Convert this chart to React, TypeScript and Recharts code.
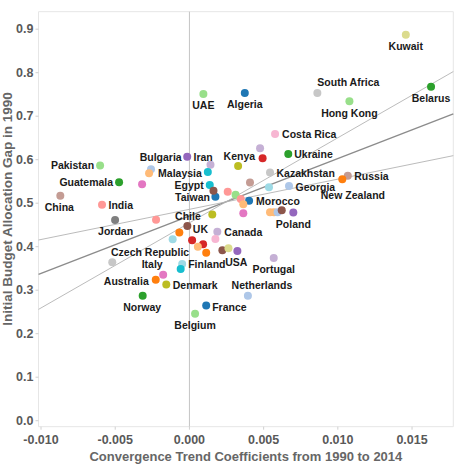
import { ScatterChart, Scatter, XAxis, YAxis, ReferenceLine, ReferenceArea } from 'recharts';

// Convergence trend coefficient (x) vs. initial budget allocation gap (y), one entry per country
const countryNames = [
    'Kuwait', 'South Africa', 'Hong Kong', 'Belarus', 'UAE', 'Algeria', 'Costa Rica', 'Ukraine',
    'Kenya', 'Bulgaria', 'Iran', 'Pakistan', 'Malaysia', 'Egypt', 'Taiwan', 'Guatemala',
    'China', 'India', 'Jordan', 'Chile', 'UK', 'Canada', 'Czech Republic', 'Italy',
    'Finland', 'USA', 'Portugal', 'Netherlands', 'Australia', 'Denmark', 'Norway', 'France',
    'Belgium', 'Kazakhstan', 'Georgia', 'Russia', 'New Zealand', 'Morocco', 'Poland',
    // countries drawn without a label
    '', '', '', '', '', '', '', '', '', '', '', '', '', '', '',
    '', '', '', '', '', '', '', '', '', '', '', '', '',
];

const trendCoef = [
    0.01458, 0.00862, 0.01078, 0.01628, 0.00094, 0.00373, 0.00577, 0.00666,
    0.00493, -0.00015, 0.00142, -0.00602, 0.00124, 0.00137, 0.00175, -0.00474,
    -0.00870, -0.00589, -0.00501, 0.00154, -0.00014, 0.00188, 0.00113, -0.00177,
    -0.00049, 0.00323, 0.00568, 0.00394, -0.00227, -0.00156, -0.00315, 0.00113,
    0.00038, 0.00543, 0.00671, 0.01067, 0.01030, 0.00402, 0.00700,
    0.00476, 0.00328, -0.00259, -0.00272, -0.00319, 0.00162, 0.00258, 0.00408,
    0.00536, 0.00311, 0.00346, 0.00363, 0.00363, -0.00225, -0.00068,
    -0.00113, 0.00018, 0.00175, 0.00092, 0.00057, 0.00222, 0.00263, -0.00520,
    -0.00059, 0.00543, 0.00570, 0.00594, 0.00622,
];

const budgetGap = [
    0.8874, 0.7533, 0.7345, 0.7678, 0.7510, 0.7533, 0.6591, 0.6131,
    0.6034, 0.6067, 0.5885, 0.5867, 0.5717, 0.5418, 0.5149, 0.5480,
    0.5172, 0.4966, 0.4614, 0.4740, 0.4476, 0.4343, 0.3862, 0.3356,
    0.3602, 0.3901, 0.3740, 0.2874, 0.3241, 0.3131, 0.2874, 0.2648,
    0.2460, 0.5706, 0.5395, 0.5632, 0.5549, 0.5057, 0.4786,
    0.6264, 0.5855, 0.5779, 0.5687, 0.5434, 0.5285, 0.5264, 0.5476,
    0.5368, 0.5193, 0.5097, 0.4977, 0.4768, 0.4621, 0.4326,
    0.4170, 0.4149, 0.4175, 0.4055, 0.4000, 0.3920, 0.3966, 0.3644,
    0.3485, 0.4791, 0.4791, 0.4791, 0.4837,
];

const xTicks = [-0.01, -0.005, 0, 0.005, 0.01, 0.015];
const yTicks = [0, 0.1, 0.2, 0.3, 0.4, 0.5, 0.6, 0.7, 0.8, 0.9];

// Trend line and its two bounding fits: intercept at x = 0 and slope
const trendIntercepts = [0.4706, 0.4548, 0.4859];
const trendSlopes = [13.19, 19.56, 6.94];

const X_MIN = -0.01017;
const X_MAX = 0.01778;
const Y_MIN = -0.0138;
const Y_MAX = 0.9402;

const T20 = {
    blue: '#1f77b4', ltBlue: '#aec7e8', orange: '#ff7f0e', ltOrange: '#ffbb78',
    green: '#2ca02c', ltGreen: '#98df8a', red: '#d62728', ltRed: '#ff9896',
    purple: '#9467bd', ltPurple: '#c5b0d5', brown: '#8c564b', ltBrown: '#c49c94',
    pink: '#e377c2', ltPink: '#f7b6d2', gray: '#7f7f7f', ltGray: '#c7c7c7',
    olive: '#bcbd22', ltOlive: '#dbdb8d', cyan: '#17becf', ltCyan: '#9edae5',
};

// dot colour per entry, same order as countryNames
const dotColors = [
    T20.ltOlive, T20.ltGray, T20.ltGreen, T20.green, T20.ltGreen, T20.blue, T20.ltPink, T20.green,
    T20.red, T20.purple, T20.ltPurple, T20.ltGreen, T20.cyan, T20.cyan, T20.blue, T20.green,
    T20.ltBrown, T20.ltRed, T20.gray, T20.olive, T20.brown, T20.ltPurple, T20.orange, T20.pink,
    T20.ltCyan, T20.purple, T20.ltPurple, T20.ltBlue, T20.orange, T20.olive, T20.green, T20.blue,
    T20.ltGreen, T20.ltGray, T20.ltBlue, T20.ltBrown, T20.orange, T20.blue, T20.purple,
    T20.ltPurple, T20.olive, T20.ltBlue, T20.ltOrange, T20.pink, T20.brown, T20.ltRed, T20.ltBrown,
    T20.ltCyan, T20.ltGreen, T20.ltRed, T20.ltOrange, T20.pink, T20.ltRed, T20.orange,
    T20.ltCyan, T20.red, T20.ltPink, T20.red, T20.ltOrange, T20.brown, T20.ltOlive, T20.ltGray,
    T20.cyan, T20.ltOrange, T20.ltOrange, T20.ltBlue, T20.brown,
];

// label placement: [anchor, dx, dy] relative to the dot
type Spot = ['start' | 'middle' | 'end', number, number];
const labelSpots: Record<string, Spot> = {
    'Kuwait': ['middle', 0, 11.5],
    'South Africa': ['start', 0, -11],
    'Hong Kong': ['middle', 0, 11.5],
    'Belarus': ['middle', 0, 11],
    'UAE': ['middle', 0, 11],
    'Algeria': ['middle', 0, 11],
    'Costa Rica': ['start', 7, 0.5],
    'Ukraine': ['start', 6, 0],
    'Kenya': ['end', -7.5, -2],
    'Bulgaria': ['end', -5.5, 0.5],
    'Iran': ['start', -17, -7.5],
    'Pakistan': ['end', -6, 0],
    'Malaysia': ['end', -6, 0.5],
    'Egypt': ['end', -6, 0],
    'Taiwan': ['end', -5.5, 0],
    'Guatemala': ['end', -6, 0],
    'China': ['middle', -1, 11.5],
    'India': ['start', 6.5, 0.5],
    'Jordan': ['middle', 0.5, 11],
    'Chile': ['end', -11.5, 1],
    'UK': ['start', 5.5, 3],
    'Canada': ['start', 7, 0],
    'Czech Republic': ['end', -17, -1],
    'Italy': ['middle', -11, -10.5],
    'Finland': ['start', 6, 0],
    'USA': ['middle', -1, 11.5],
    'Portugal': ['middle', 0, 11],
    'Netherlands': ['middle', 14, -11],
    'Australia': ['end', -7, 1],
    'Denmark': ['start', 6.5, 1],
    'Norway': ['middle', -0.5, 11.5],
    'France': ['start', 6, 1],
    'Belgium': ['middle', 0, 11.5],
    'Kazakhstan': ['start', 6.5, 1],
    'Georgia': ['start', 6.5, 0.5],
    'Russia': ['start', 6.5, 0],
    'New Zealand': ['start', -21.5, 16],
    'Morocco': ['start', 7, 0.5],
    'Poland': ['middle', 0, 11.5],
};

const points = countryNames.map((name, i) => ({
    name,
    x: trendCoef[i],
    y: budgetGap[i],
    idx: i,
}));

const trendSegments = trendIntercepts.map((a, i) => [
    { x: X_MIN, y: a + trendSlopes[i] * X_MIN },
    { x: X_MAX, y: a + trendSlopes[i] * X_MAX },
]);

const FONT = '"Liberation Sans", Arial, sans-serif';

const Dot = (props: any) => {
    const { cx, cy, payload } = props;
    if (cx == null || cy == null) return <g />;
    return <circle cx={cx} cy={cy} r={4} fill={dotColors[payload.idx]} />;
};

const DotLabel = (props: any) => {
    const { cx, cy, payload } = props;
    const spot = labelSpots[payload.name];
    if (!spot || cx == null) return <g />;
    const [anchor, dx, dy] = spot;
    return (
        <text
            x={cx + dx}
            y={cy + dy}
            textAnchor={anchor}
            dominantBaseline="central"
            fontFamily={FONT}
            fontWeight="bold"
            fontSize={10.5}
            fill="#1a1a1a"
        >
            {payload.name}
        </text>
    );
};

const XTick = (props: any) => {
    const { x, y, payload } = props;
    return (
        <text x={x} y={y + 8.5} textAnchor="middle" dominantBaseline="central"
            fontFamily={FONT} fontWeight="bold" fontSize={12.5} fill="#595959">
            {payload.value.toFixed(3)}
        </text>
    );
};

const YTick = (props: any) => {
    const { x, y, payload } = props;
    return (
        <text x={x} y={y} textAnchor="end" dominantBaseline="central"
            fontFamily={FONT} fontWeight="bold" fontSize={12.5} fill="#595959">
            {payload.value.toFixed(1)}
        </text>
    );
};

export default function App() {
    return (
        <div style={{ position: 'absolute', left: 0, top: 0, width: 456, height: 471, background: '#fff' }}>
            <ScatterChart
                width={456}
                height={471}
                margin={{ top: 11.7, right: 2.7, bottom: 0, left: 0 }}
            >
                <XAxis
                    type="number"
                    dataKey="x"
                    domain={[X_MIN, X_MAX]}
                    allowDataOverflow
                    ticks={xTicks}
                    height={44.3}
                    axisLine={false}
                    tickLine={{ stroke: '#d0d0d0' }}
                    tickSize={3}
                    tickMargin={2}
                    tick={<XTick />}
                    interval={0}
                />
                <YAxis
                    type="number"
                    dataKey="y"
                    domain={[Y_MIN, Y_MAX]}
                    allowDataOverflow
                    ticks={yTicks}
                    width={38.5}
                    axisLine={false}
                    tickLine={{ stroke: '#d0d0d0' }}
                    tickSize={3}
                    tickMargin={2}
                    tick={<YTick />}
                    interval={0}
                />
                <ReferenceArea x1={X_MIN} x2={X_MAX} y1={Y_MIN} y2={Y_MAX}
                    fill="none" stroke="#e6e6e6" strokeWidth={1} />
                <ReferenceLine x={0} stroke="#c4c4c4" strokeWidth={1} />
                {trendSegments.map((seg, i) => (
                    <ReferenceLine
                        key={`trend-${i}`}
                        segment={seg}
                        stroke={i === 0 ? '#8c8c8c' : '#b3b3b3'}
                        strokeWidth={i === 0 ? 1.4 : 0.9}
                    />
                ))}
                <Scatter data={points} shape={<Dot />} isAnimationActive={false} />
                <Scatter data={points} shape={<DotLabel />} isAnimationActive={false} />
            </ScatterChart>
            <div style={{
                position: 'absolute', left: 38.5, width: 414.8, top: 448, textAlign: 'center',
                fontFamily: FONT, fontWeight: 'bold', fontSize: 13, color: '#666', lineHeight: '18px',
            }}>
                Convergence Trend Coefficients from 1990 to 2014
            </div>
            <div style={{
                position: 'absolute', left: 8, top: 209, width: 0, height: 0,
            }}>
                <div style={{
                    position: 'absolute', left: 0, top: 0, whiteSpace: 'nowrap',
                    transform: 'translate(-50%, -50%) rotate(-90deg)',
                    fontFamily: FONT, fontWeight: 'bold', fontSize: 13.5, color: '#666', lineHeight: '16px',
                }}>
                    Initial Budget Allocation Gap in 1990
                </div>
            </div>
        </div>
    );
}
